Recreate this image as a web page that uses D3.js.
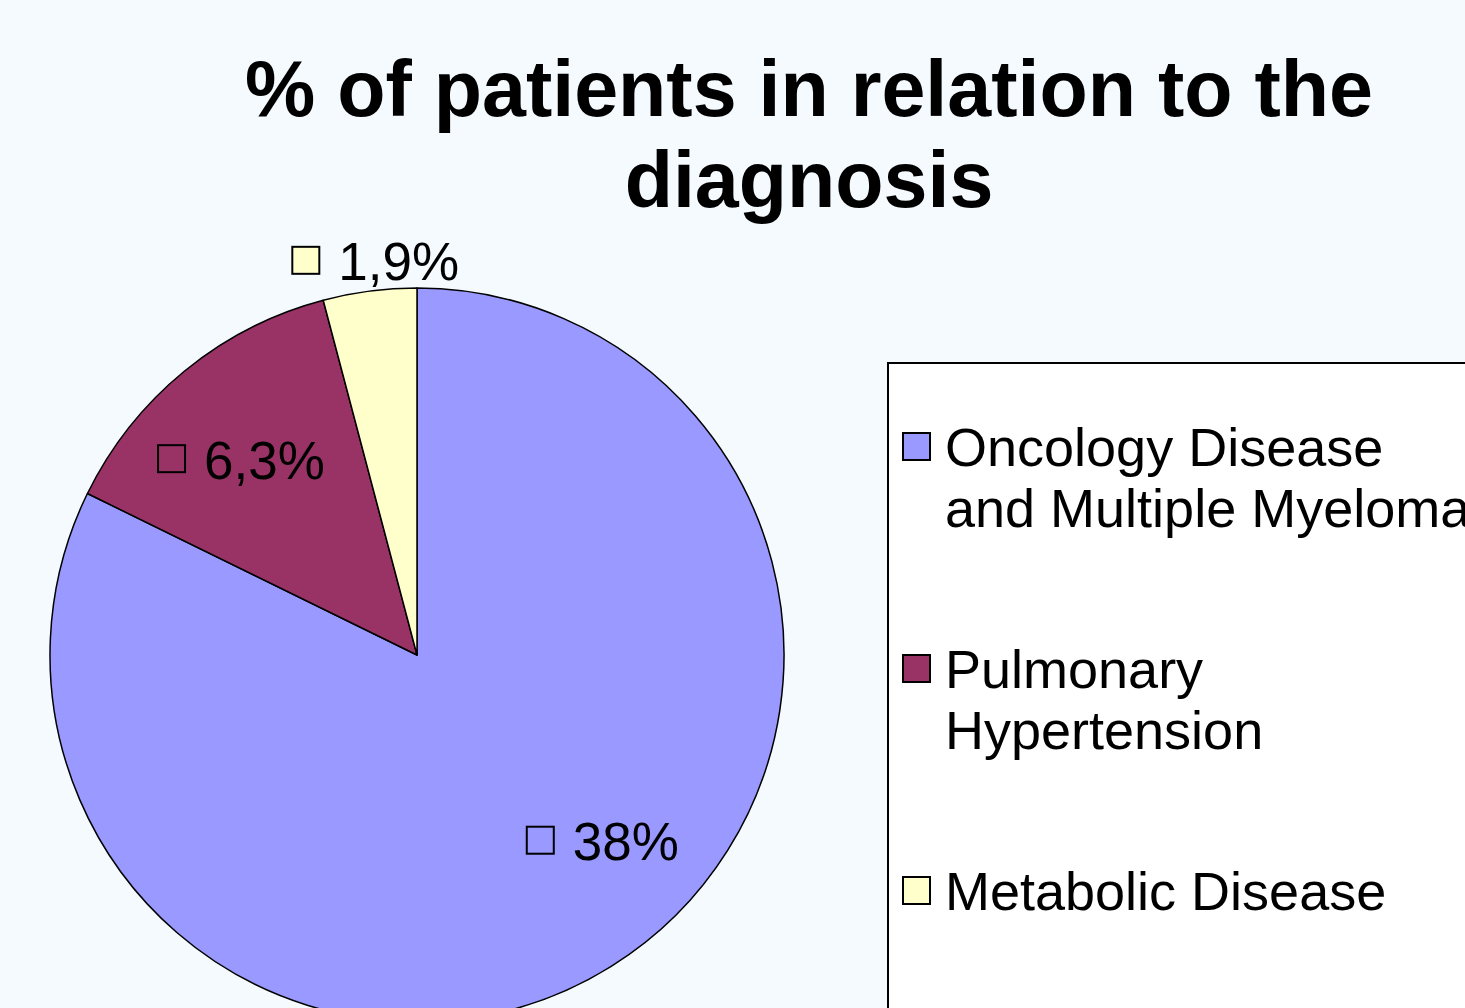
<!DOCTYPE html>
<html>
<head>
<meta charset="utf-8">
<script src="https://cdn.jsdelivr.net/npm/d3@7"></script>
<style>
  html, body { margin: 0; padding: 0; background: #F4FAFE; overflow: hidden; }
  svg { display: block; }
</style>
</head>
<body>
<div id="chart"></div>
<script>
// chart data
const categories = ["Oncology Disease and Multiple Myeloma", "Pulmonary Hypertension", "Metabolic Disease"];
const legendLines = [["Oncology Disease", "and Multiple Myeloma"], ["Pulmonary", "Hypertension"], ["Metabolic Disease"]];
const values = [38, 6.3, 1.9];
const valueLabels = ["38%", "6,3%", "1,9%"];
const colors = ["#9999FF", "#993366", "#FFFFCC"];
const titleLines = ["% of patients in relation to the", "diagnosis"];

const width = 1465, height = 1008;
const cx = 417, cy = 655, radius = 367;
const labelFont = "'Liberation Sans', Arial, sans-serif";

const svg = d3.select("#chart").append("svg")
    .attr("width", width)
    .attr("height", height);

svg.append("rect")
    .attr("width", width)
    .attr("height", height)
    .attr("fill", "#F4FAFE");

// title
svg.append("g")
    .selectAll("text")
    .data(titleLines)
    .join("text")
    .attr("x", 809)
    .attr("y", (d, i) => 116 + i * 91)
    .attr("text-anchor", "middle")
    .attr("font-family", labelFont)
    .attr("font-weight", "bold")
    .attr("font-size", 79)
    .attr("fill", "#000")
    .text(d => d);

// pie
const pie = d3.pie().sort(null).value(d => d);
const arcs = pie(values);
const arc = d3.arc().innerRadius(0).outerRadius(radius);

const g = svg.append("g").attr("transform", `translate(${cx},${cy})`);

g.selectAll("path")
    .data(arcs)
    .join("path")
    .attr("d", arc)
    .attr("fill", (d, i) => colors[i])
    .attr("stroke", "#000")
    .attr("stroke-width", 1.5)
    .attr("stroke-linejoin", "round");

// data labels: inside for big slices, just outside for thin ones (excel "best fit")
const total = d3.sum(values);
const insideArc = d3.arc().innerRadius(radius * 0.72).outerRadius(radius * 0.72);
const outsideArc = d3.arc().innerRadius(radius + 31).outerRadius(radius + 31);
const nudge = [[46, -38], [-8, 9], [10, 1]];

const swatch = 27, gap = 19, labelSize = 53;

const labels = g.selectAll("g.label")
    .data(arcs)
    .join("g")
    .attr("class", "label")
    .attr("transform", (d, i) => {
        const a = d.data / total < 0.06 ? outsideArc : insideArc;
        const [x, y] = a.centroid(d);
        return `translate(${x + nudge[i][0]},${y + nudge[i][1]})`;
    });

labels.each(function (d, i) {
    const lg = d3.select(this);
    const txt = lg.append("text")
        .attr("font-family", labelFont)
        .attr("font-size", labelSize)
        .attr("fill", "#000")
        .text(valueLabels[i]);
    const w = txt.node().getComputedTextLength();
    const full = swatch + gap + w;
    txt.attr("x", -full / 2 + swatch + gap).attr("y", 19);
    lg.append("rect")
        .attr("x", -full / 2)
        .attr("y", -swatch / 2 - 1)
        .attr("width", swatch)
        .attr("height", swatch)
        .attr("fill", colors[i])
        .attr("stroke", "#000")
        .attr("stroke-width", 2);
});

// legend (runs off the right and bottom edges, as in the source slide)
const legend = svg.append("g").attr("transform", "translate(888,363)");

legend.append("rect")
    .attr("width", 620)
    .attr("height", 700)
    .attr("fill", "#fff")
    .attr("stroke", "#000")
    .attr("stroke-width", 2);

const itemY = d3.scalePoint().domain(categories).range([103, 547]);

const items = legend.selectAll("g.item")
    .data(categories)
    .join("g")
    .attr("class", "item")
    .attr("transform", d => `translate(0,${itemY(d)})`);

items.append("rect")
    .attr("x", 15)
    .attr("y", -33)
    .attr("width", 27)
    .attr("height", 27)
    .attr("fill", (d, i) => colors[i])
    .attr("stroke", "#000")
    .attr("stroke-width", 2);

items.append("text")
    .attr("font-family", labelFont)
    .attr("font-size", 54)
    .attr("fill", "#000")
    .selectAll("tspan")
    .data((d, i) => legendLines[i])
    .join("tspan")
    .attr("x", 57)
    .attr("y", (d, j) => j * 61)
    .text(d => d);
</script>
</body>
</html>
